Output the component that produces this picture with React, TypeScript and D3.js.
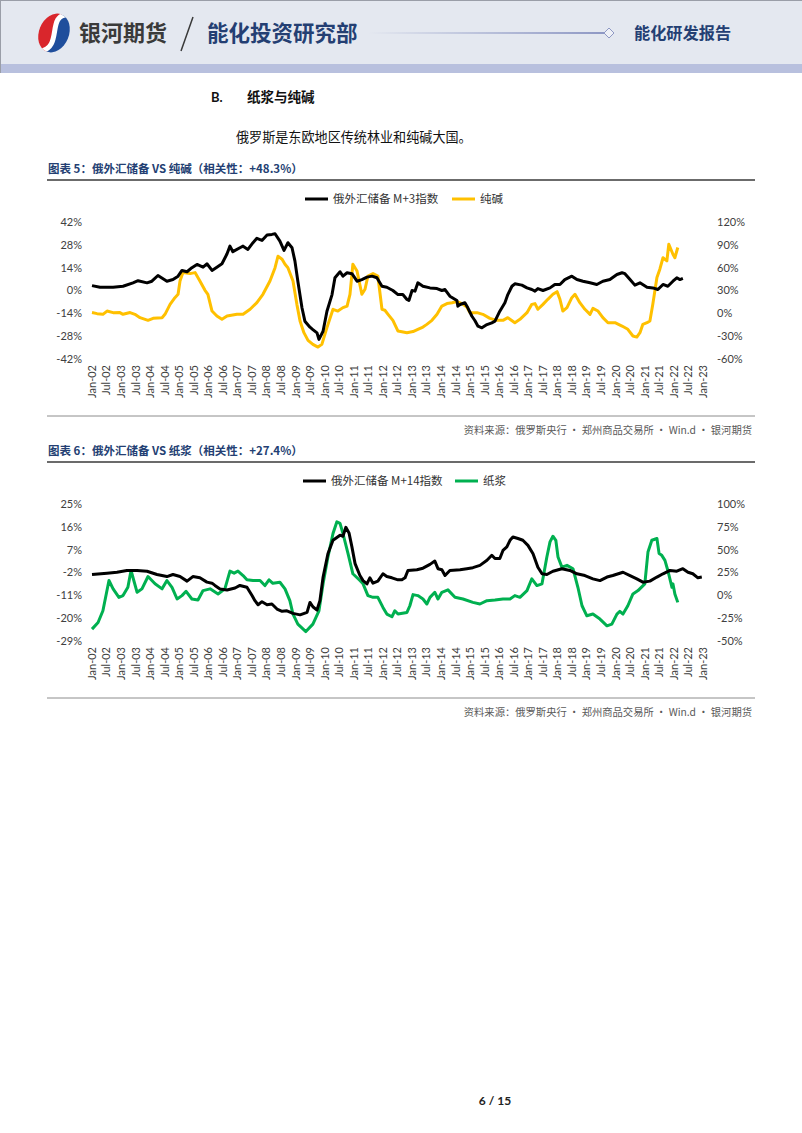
import React from "react";
import * as d3 from "d3";

// ---------- tick labels ----------
const xTickLabels = [
  "Jan-02","Jul-02","Jan-03","Jul-03","Jan-04","Jul-04","Jan-05","Jul-05","Jan-06","Jul-06",
  "Jan-07","Jul-07","Jan-08","Jul-08","Jan-09","Jul-09","Jan-10","Jul-10","Jan-11","Jul-11",
  "Jan-12","Jul-12","Jan-13","Jul-13","Jan-14","Jul-14","Jan-15","Jul-15","Jan-16","Jul-16",
  "Jan-17","Jul-17","Jan-18","Jul-18","Jan-19","Jul-19","Jan-20","Jul-20","Jan-21","Jul-21",
  "Jan-22","Jul-22","Jan-23",
];
const chart1LeftTicks = [42, 28, 14, 0, -14, -28, -42];
const chart1RightTicks = [120, 90, 60, 30, 0, -30, -60];
const chart2LeftTicks = [25, 16, 7, -2, -11, -20, -29];
const chart2RightTicks = [100, 75, 50, 25, 0, -25, -50];

// ---------- data: [months since Jan-02, value %] ----------
const reserveM3: [number, number][] = [
  [0,3.0],[3.3,2.0],[8.7,2.0],[12.8,2.6],[16.9,4.7],[19,6.0],[22.7,4.7],[24.7,5.7],[27.2,9.2],[30.9,5.7],
  [33.4,6.7],[35.5,8.8],[37.1,12.3],[39.2,11.5],[41.2,14.0],[43.3,16.0],[45.8,14.3],[47.4,16.4],[49.5,12.3],[51.5,14.3],
  [53.6,16.4],[55.7,22.5],[56.9,27.2],[58.1,23.8],[61,26.2],[62.3,27.2],[64.3,25.2],[66.4,29.3],[68,32.0],[70.1,30.7],
  [72.2,34.0],[74.2,34.4],[75.5,34.8],[77.5,30.3],[79.2,24.6],[80.8,29.3],[82.5,26.2],[83.7,18.0],[84.9,5.7],[86.6,-10.6],
  [87.8,-18.8],[89.9,-22.5],[91.1,-24],[92.8,-26],[93.6,-30],[95.3,-25],[96.9,-12.7],[99,-2.5],[100.2,7.8],[102.3,11.5],
  [103.5,8.8],[105.2,10.9],[107.2,10.3],[109.3,5.7],[111.3,6.7],[113.4,8.2],[115.5,8.8],[117.5,7.8],[119.6,2.6],[121.6,2.0],
  [124.1,0],[126.2,-2.5],[128.2,-2.5],[129.9,-5.5],[130.7,-6.1],[132,0],[133.2,-0.4],[134.4,4.7],[136.5,2.6],[139.4,1.6],
  [142.3,1.2],[144.3,0],[145.6,0.6],[147.6,-3.5],[150.5,-6.1],[150.9,-9.6],[151.8,-8.6],[153.8,-7.5],[155,-10.6],[156.7,-15.8],
  [157.9,-18.4],[159.2,-21.9],[160.8,-22.9],[162.9,-20.9],[164.9,-19.8],[166.2,-18.8],[168.2,-12.7],[170.3,-7.5],[171.5,-2.5],[173.2,2.6],
  [174.4,4.1],[177.3,3.3],[179.4,1.6],[181.4,0.6],[182.7,-0.4],[183.9,1.2],[186,0],[188.9,1.6],[190.9,3.7],[193,3.7],
  [195,6.7],[197.9,8.8],[200,6.7],[202.5,5.7],[205.4,4.7],[208.2,3.7],[210.7,5.7],[213.6,6.7],[216.5,9.8],[218.6,10.9],
  [219.8,10.3],[221.9,6.7],[223.9,3.3],[226,4.7],[228.9,2.0],[231.3,1.6],[233.4,0.6],[235.5,3.7],[237.5,2.6],[239.6,5.7],
  [241.2,7.8],[242.5,6.7],[243.7,7.4],
];
const sodaAsh: [number, number][] = [
  [0,1],[2.1,-0.4],[4.5,-1.3],[6.2,3],[8.7,0.9],[11.5,1],[12.8,-1.3],[15.7,1],[17.7,-1.3],[19.8,-5.7],
  [23.1,-9.2],[25.2,-6.6],[28.9,-5.7],[30.1,-1.3],[32.2,11.8],[34.2,20.6],[35.5,25],[36.3,42.5],[37.5,53.5],[40.4,52.2],
  [42.5,53.5],[44.5,42.5],[46.6,30.3],[47.8,25],[49.5,3],[51.5,-3.5],[53.6,-7.9],[55.7,-3.5],[59.8,-1.3],[62.3,-1.3],
  [65.2,5.3],[68,14],[70.5,25],[73.4,42.5],[75.5,60],[76.7,75],[78.4,71],[79.6,64.5],[80.8,60],[82.9,42.5],
  [84.5,11.8],[85.8,-10],[87.4,-25.4],[89.1,-35.5],[91.1,-40.8],[93.2,-44.3],[94.8,-40.8],[96.9,-18.8],[99.4,5.3],[101.4,3],
  [103.5,7.5],[105.2,9.6],[106.4,25],[107.6,64.5],[109.3,55.7],[111.3,25],[112.6,31.6],[113.8,49],[115.9,52.2],[117.9,49],
  [119.6,5.3],[120.8,4],[122.1,-1.3],[124.1,-9.2],[126.2,-23.3],[129.9,-25.4],[132.4,-24],[134.4,-21],[136.5,-18],[138.1,-14.5],
  [140.2,-9.2],[142.3,-1.3],[144.3,9.6],[146.4,12.8],[148.5,14],[150.5,15.4],[152.6,12.8],[154.6,8.3],[155.9,0.9],[158.8,0.9],
  [161.2,-1.3],[164.1,-6.6],[167,-9.2],[169.5,-9.2],[171.5,-5.7],[174.4,-12.3],[176.5,-7.9],[179.4,0.9],[181.4,11.8],[182.7,12.8],
  [183.9,5.3],[186,11.8],[188,18.4],[190.1,25],[191.8,28.5],[193,18.4],[194.2,3],[195.9,7.5],[197.9,20.6],[199.2,25],
  [201.2,14],[203.3,5.3],[205.4,-1.3],[206.6,6.6],[208.7,3],[210.7,-5.7],[212.8,-12.3],[215.7,-12.3],[218.6,-16.7],[221,-21],
  [223.1,-29.8],[224.7,-31.2],[226,-25.4],[227.2,-14.5],[228.9,-12.3],[230.1,-10],[231.3,11.8],[233,47],[234.2,58],[235.5,73],
  [237.1,69],[237.9,90.8],[239.6,77.6],[240.4,73],[241.6,86.5],
];
const reserveM14: [number, number][] = [
  [0,-2.8],[6.2,-2.3],[10.3,-1.9],[14.4,-1.2],[18.6,-1.2],[22.7,-1.5],[26.8,-2.8],[30.9,-3.6],[33.4,-2.8],[36.3,-3.6],
  [39.2,-5.4],[41.6,-3.6],[44.5,-4.1],[47.4,-5.8],[49.5,-6.2],[50.7,-7.1],[52.8,-8.5],[55.7,-8.9],[59,-8.1],[61,-7.1],
  [63.9,-7.8],[66,-11.1],[67.2,-13.1],[68.5,-14.7],[70.1,-13.5],[72.2,-14.7],[74.2,-14.4],[76.3,-16.4],[78.4,-17.3],[80.4,-17.1],
  [82.9,-18.1],[85.8,-18.7],[88.7,-17.7],[89.9,-13.8],[91.1,-15.5],[92.8,-16.8],[94,-13.1],[95.3,-3.9],[97.3,5.4],[99.4,10.7],
  [102.3,12.7],[103.5,12.3],[104.7,15.8],[106,13.6],[107.2,8.1],[108.5,1.5],[110.5,-3.2],[111.8,-5.2],[113.4,-6.5],[114.6,-4.1],
  [115.9,-6.2],[117.9,-5.4],[120,-2.5],[121.6,-3.6],[123.7,-4.1],[126.2,-4.9],[127.8,-4.9],[129.1,-4.1],[130.3,-1.2],[134,-0.9],
  [136.5,-0.3],[139.4,1.2],[141.4,2.5],[142.7,-0.5],[144.3,-0.9],[145.6,-3.2],[147.6,-1.2],[151.8,-0.9],[154.6,-0.5],[157.1,-0.1],
  [160,0.8],[162.9,2.8],[164.9,4.8],[166.2,3.5],[168.2,3.5],[169.5,6.7],[171.1,8.1],[172.4,10.7],[173.6,12],[175.7,11.4],
  [177.7,10.7],[179.8,8.7],[181.9,5.4],[183.9,0.1],[185.6,-2.5],[187.6,-2.8],[190.1,-1.5],[193.8,-0.5],[197.1,-1.2],[200,-2.5],
  [203.3,-3.2],[206.6,-4.5],[209.5,-5.2],[212.4,-3.8],[214.8,-3.2],[219,-1.9],[221.9,-3.2],[224.7,-4.5],[227.2,-5.8],[230.1,-5.4],
  [233,-3.8],[235.5,-2.5],[238.4,-1.2],[241.2,-1.5],[243.7,-0.5],[245.8,-1.9],[247.8,-2.5],[249.9,-4.1],[251.5,-3.8],
];
const pulp: [number, number][] = [
  [0,-37],[2.5,-29.8],[4.5,-16.9],[7,16.2],[8.7,7.1],[11.1,-2.2],[12.8,-0.3],[14.8,8.8],[16.1,27.2],[18.6,3.3],
  [20.6,7.1],[23.1,20.6],[26,12.6],[28.9,7.1],[30.9,16.2],[33,8.8],[35.1,-4],[37.1,-0.3],[38.8,4.4],[41.2,-4],
  [43.7,-5.1],[45.8,5.2],[48.7,7.1],[52,1.5],[54.8,7.1],[56.9,26.5],[58.6,24.3],[60.2,26.5],[62.3,21.7],[63.9,17],
  [66.4,16.2],[69.3,16.2],[71.3,10.7],[73,17],[74.6,13.2],[77.5,14.3],[79.6,7.1],[81.6,-5.8],[82.9,-20.5],[84.9,-31.5],
  [88.2,-39.7],[91.1,-31.5],[93.6,-16.9],[95.3,12.6],[97.3,41.9],[99.4,67.7],[101,80.5],[102.3,78.8],[103.5,67.7],[105.6,45.7],
  [107.6,23.6],[110.5,16.2],[111.8,12.6],[113.8,-0.3],[115.9,-2.2],[117.9,-2.2],[120,-13.2],[121.6,-20.5],[123.7,-23.5],[124.9,-16.9],
  [126.2,-20.5],[129.9,-18.7],[131.1,-11.4],[132.4,0.8],[134.4,-0.3],[136.5,-4],[138.1,-9.5],[139.4,-2.2],[141.4,3.3],[142.7,-4],
  [144.3,3.3],[146.8,6],[149.7,-2.2],[153,-4],[157.1,-7.7],[160,-9.5],[162.9,-5.8],[166.2,-5.1],[169.5,-4],[172.4,-4],
  [174.4,-0.3],[176.5,-2.2],[179.4,5.2],[181.4,18.1],[183.5,10.7],[185.6,12.6],[187.6,41.9],[188.9,58.5],[190.1,64.7],[191.3,60.3],
  [192.2,41.9],[193.8,30.9],[195.9,32.8],[198.4,29.1],[200.4,8.8],[202.1,-11.4],[204.1,-22.4],[206.6,-20.5],[209.5,-26],[212.4,-33.4],
  [214.4,-31.5],[216.5,-20.5],[217.7,-17.6],[219,-20.5],[221,-11.4],[223.1,1.5],[225.2,5.2],[228,12.6],[229.3,47.4],[230.9,60.3],
  [233,62.2],[233.9,45.7],[235,43.8],[236.3,38.3],[237.5,27.2],[239.2,8.8],[239.6,12.6],[240.4,1.5],[241.6,-7.7],
];

const NAVY = "#243f73";
const CJK = "'Noto Sans CJK SC', sans-serif";
const NUM = "Lato, 'DejaVu Sans', sans-serif";

type ChartProps = {
  offsetY: number;
  title: string;
  leftTicks: number[];
  rightTicks: number[];
  black: [number, number][];
  colored: [number, number][];
  color: string;
  blackName: string;
  coloredName: string;
  legendBlackX: number;
  legendColorX: number;
};

function Chart(p: ChartProps) {
  const o = p.offsetY;
  const x = d3.scaleLinear().domain([0, 252]).range([92, 703]);
  const yL = d3
    .scaleLinear()
    .domain([p.leftTicks[p.leftTicks.length - 1], p.leftTicks[0]])
    .range([o + 359, o + 222]);
  const yR = d3
    .scaleLinear()
    .domain([p.rightTicks[p.rightTicks.length - 1], p.rightTicks[0]])
    .range([o + 359, o + 222]);
  const lineL = d3.line<[number, number]>().x((d) => x(d[0])).y((d) => yL(d[1]));
  const lineR = d3.line<[number, number]>().x((d) => x(d[0])).y((d) => yR(d[1]));
  return (
    <g>
      <text x={48} y={o + 173} fontFamily={CJK} fontWeight={700} fontSize={11.5} fill={NAVY}>
        {p.title}
      </text>
      <line x1={47} x2={755} y1={o + 180} y2={o + 180} stroke="#3a3a3a" strokeWidth={1.5} />
      {/* legend */}
      <line x1={p.legendBlackX} x2={p.legendBlackX + 23} y1={o + 199} y2={o + 199} stroke="#000" strokeWidth={3} />
      <text x={p.legendBlackX + 28} y={o + 203} fontFamily={CJK} fontSize={11.5} fill="#333">
        {p.blackName}
      </text>
      <line x1={p.legendColorX} x2={p.legendColorX + 23} y1={o + 199} y2={o + 199} stroke={p.color} strokeWidth={3} />
      <text x={p.legendColorX + 28} y={o + 203} fontFamily={CJK} fontSize={11.5} fill="#333">
        {p.coloredName}
      </text>
      {/* left axis */}
      {p.leftTicks.map((t) => (
        <text key={"l" + t} x={82} y={yL(t)} dy="0.35em" textAnchor="end" fontFamily={NUM} fontSize={11} fill="#404040">
          {t + "%"}
        </text>
      ))}
      {p.rightTicks.map((t) => (
        <text key={"r" + t} x={717} y={yR(t)} dy="0.35em" textAnchor="start" fontFamily={NUM} fontSize={11} fill="#404040">
          {t + "%"}
        </text>
      ))}
      {xTickLabels.map((lab, i) => (
        <text
          key={lab}
          transform={`translate(${x(i * 6)},${o + 365}) rotate(-90)`}
          dy="0.35em"
          textAnchor="end"
          fontFamily={NUM}
          fontSize={11}
          fill="#404040"
        >
          {lab}
        </text>
      ))}
      <path d={lineR(p.colored) || ""} fill="none" stroke={p.color} strokeWidth={3} strokeLinejoin="round" />
      <path d={lineL(p.black) || ""} fill="none" stroke="#000" strokeWidth={3} strokeLinejoin="round" />
      <line x1={47} x2={755} y1={o + 416} y2={o + 416} stroke="#8c8c8c" strokeWidth={1} />
      <text x={752} y={o + 434} textAnchor="end" fontFamily={CJK} fontSize={10.3} fill="#595959">
        资料来源：俄罗斯央行 · 郑州商品交易所 · Win.d · 银河期货
      </text>
    </g>
  );
}

function Header() {
  return (
    <g>
      <defs>
        <linearGradient id="hdrLine" x1="0" x2="1" y1="0" y2="0">
          <stop offset="0" stopColor="#e4e8f0" />
          <stop offset="1" stopColor="#8e98c4" />
        </linearGradient>
        <clipPath id="logoClip">
          <ellipse cx={0} cy={0} rx={15} ry={20} />
        </clipPath>
      </defs>
      <rect x={0} y={0} width={802} height={64} fill="#e4e8f0" />
      <rect x={0} y={64} width={802} height={9} fill="#b8c0de" />
      <line x1={0} x2={802} y1={0.5} y2={0.5} stroke="#9a9ea8" />
      <line x1={0.5} x2={0.5} y1={0} y2={73} stroke="#9a9ea8" />
      <g transform="translate(54,33) rotate(22)">
        <g clipPath="url(#logoClip)">
          <rect x={-16} y={-21} width={16} height={42} fill="#d9262c" />
          <rect x={0} y={-21} width={16} height={42} fill="#1f4e9c" />
          <path d="M 6 -22 C -14 -14, 14 10, -6 22" fill="none" stroke="#fff" strokeWidth={5} />
        </g>
      </g>
      <text x={79} y={41} fontFamily={CJK} fontWeight={700} fontSize={22} fill="#3a3a3a">
        银河期货
      </text>
      <line x1={193} x2={181} y1={17} y2={51} stroke="#3a3a3a" strokeWidth={1.5} />
      <text x={207} y={41} fontFamily={CJK} fontWeight={700} fontSize={21.5} fill={NAVY}>
        能化投资研究部
      </text>
      <rect x={368} y={32} width={236} height={2} fill="url(#hdrLine)" />
      <path d="M 604 33 L 609 28 L 614 33 L 609 38 Z" fill="#eef0f6" stroke="#8e98c4" strokeWidth={1} />
      <text x={634} y={39} fontFamily={CJK} fontWeight={700} fontSize={16.2} fill={NAVY}>
        能化研发报告
      </text>
    </g>
  );
}

export default function App() {
  return (
    <svg
      width={802}
      height={1133}
      viewBox="0 0 802 1133"
      style={{ position: "absolute", left: 0, top: 0, background: "#fff" }}
    >
      <rect x={0} y={0} width={802} height={1133} fill="#fff" />
      <Header />
      <text x={211} y={102} fontFamily={NUM} fontWeight={700} fontSize={13} fill="#111">
        B.
      </text>
      <text x={247} y={102} fontFamily={CJK} fontWeight={700} fontSize={13.5} fill="#111">
        纸浆与纯碱
      </text>
      <text x={236} y={142} fontFamily={CJK} fontSize={13.1} fill="#111">
        俄罗斯是东欧地区传统林业和纯碱大国。
      </text>
      <Chart
        offsetY={0}
        title="图表 5：俄外汇储备 VS 纯碱（相关性：+48.3%）"
        leftTicks={chart1LeftTicks}
        rightTicks={chart1RightTicks}
        black={reserveM3}
        colored={sodaAsh}
        color="#FFC000"
        blackName="俄外汇储备 M+3指数"
        coloredName="纯碱"
        legendBlackX={305}
        legendColorX={452}
      />
      <Chart
        offsetY={282}
        title="图表 6：俄外汇储备 VS 纸浆（相关性：+27.4%）"
        leftTicks={chart2LeftTicks}
        rightTicks={chart2RightTicks}
        black={reserveM14}
        colored={pulp}
        color="#00B050"
        blackName="俄外汇储备 M+14指数"
        coloredName="纸浆"
        legendBlackX={303}
        legendColorX={455}
      />
      <text x={495} y={1105} textAnchor="middle" fontFamily={NUM} fontWeight={700} fontSize={12} fill="#222">
        6 / 15
      </text>
    </svg>
  );
}
